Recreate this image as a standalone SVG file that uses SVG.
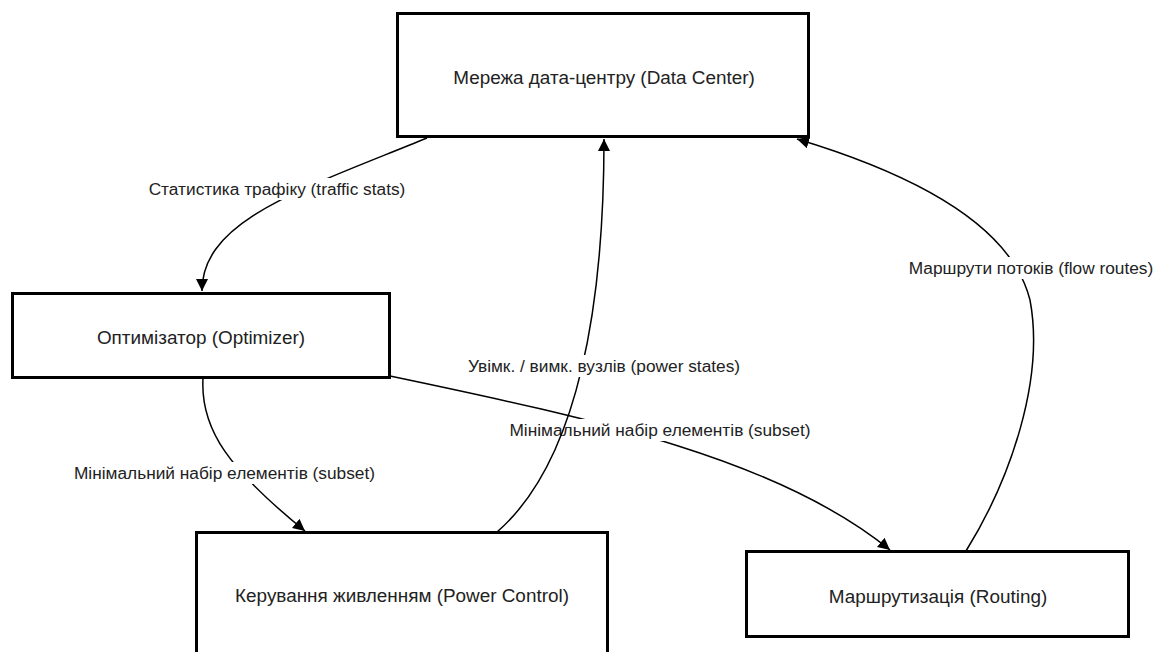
<svg xmlns="http://www.w3.org/2000/svg" width="1158" height="652" viewBox="0 0 1158 652">
  <style>
    .node rect { fill: #ffffff; stroke: #000000; stroke-width: 3; }
    .node text { font-family: "Liberation Sans", Arial, sans-serif; font-size: 18.9px; fill: #222222; text-anchor: middle; dominant-baseline: central; }
    .edge { fill: none; stroke: #000000; stroke-width: 1.5; marker-end: url(#arrow); }
    .elabel rect { fill: #ffffff; stroke: none; }
    .elabel text { font-family: "Liberation Sans", Arial, sans-serif; font-size: 17.3px; fill: #222222; text-anchor: middle; dominant-baseline: central; }
  </style>
  <defs>
    <marker id="arrow" viewBox="0 0 10 10" refX="10" refY="5" markerUnits="userSpaceOnUse" markerWidth="12" markerHeight="12" orient="auto">
      <path d="M0,0 L10,5 L0,10 z" fill="#000000"/>
    </marker>
  </defs>
  <rect width="1158" height="652" fill="#ffffff"/>

  <!-- connectors, each followed by its label -->
  <g id="connectors">
    <path class="edge" d="M427,138 C300,190 202,220 202,291"/>
    <g class="elabel">
      <rect x="146" y="178" width="262" height="22"/>
      <text x="277" y="189">Статистика трафіку (traffic stats)</text>
    </g>

    <path class="edge" d="M203,378 C200,430 230,470 305,531"/>
    <g class="elabel">
      <rect x="70" y="462" width="309" height="22"/>
      <text x="224.5" y="473">Мінімальний набір елементів (subset)</text>
    </g>

    <path class="edge" d="M390,376 C600,420 780,460 890,550"/>
    <g class="elabel">
      <rect x="506" y="419" width="308" height="22"/>
      <text x="660" y="430">Мінімальний набір елементів (subset)</text>
    </g>

    <path class="edge" d="M497,532 C580,460 604,300 604,139"/>
    <g class="elabel">
      <rect x="465" y="355" width="278" height="22"/>
      <text x="604" y="366">Увімк. / вимк. вузлів (power states)</text>
    </g>

    <path class="edge" d="M966,551 C1010,480 1045,380 1030,300 C1010,220 900,170 797,139"/>
    <g class="elabel">
      <rect x="908" y="257" width="246" height="22"/>
      <text x="1031" y="268">Маршрути потоків (flow routes)</text>
    </g>
  </g>

  <!-- nodes -->
  <g id="datacenter" class="node">
    <rect x="397.5" y="13.5" width="411" height="123"/>
    <text x="604" y="77">Мережа дата-центру (Data Center)</text>
  </g>
  <g id="optimizer" class="node">
    <rect x="12.5" y="293.5" width="377" height="84"/>
    <text x="201" y="337">Оптимізатор (Optimizer)</text>
  </g>
  <g id="powercontrol" class="node">
    <rect x="196.5" y="532.5" width="411" height="126"/>
    <text x="402" y="595">Керування живленням (Power Control)</text>
  </g>
  <g id="routing" class="node">
    <rect x="746.5" y="551.5" width="382" height="85"/>
    <text x="938" y="596">Маршрутизація (Routing)</text>
  </g>
</svg>
